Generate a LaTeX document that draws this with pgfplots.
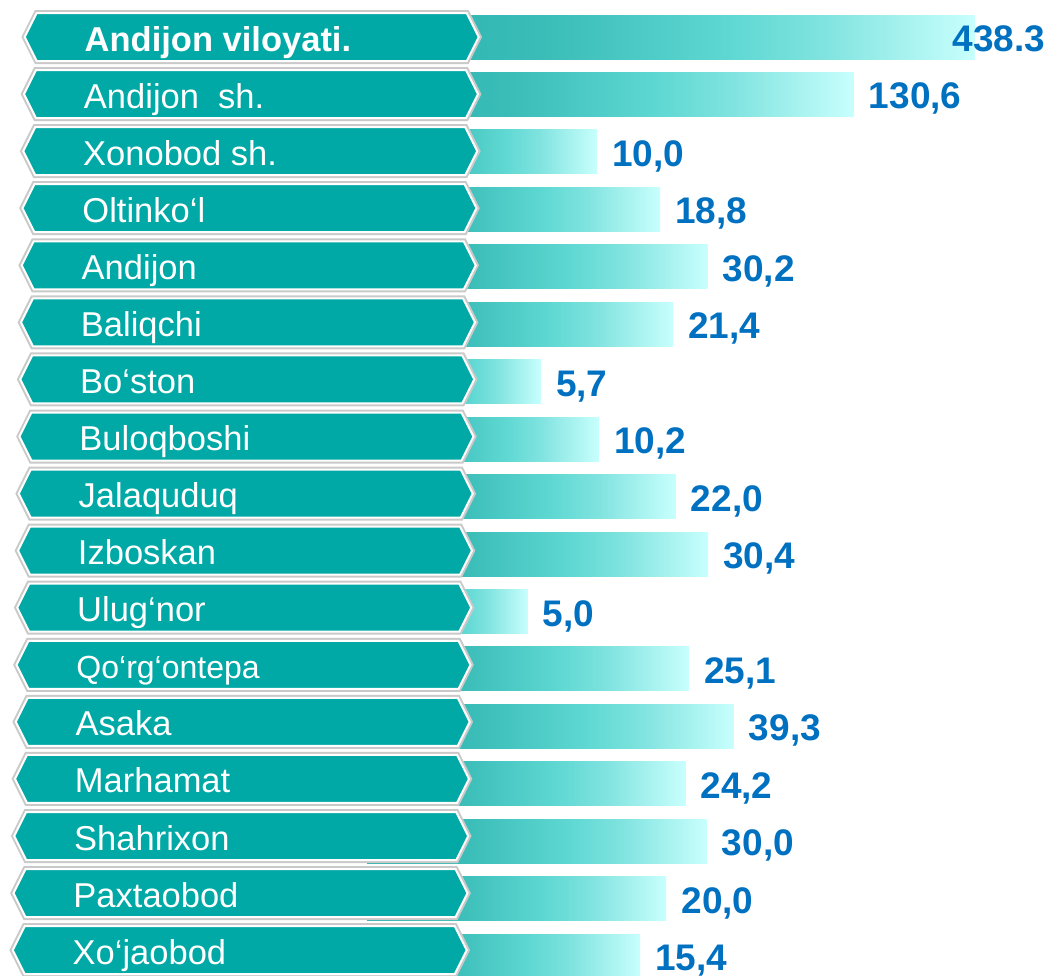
\documentclass[border=0pt]{standalone}
\usepackage{fontspec}
\setmainfont{Liberation Sans}
\usepackage{pgfplots}
\usepackage{pgfplotstable}
\pgfplotsset{compat=1.18}

\definecolor{tagteal}{HTML}{00A9A5}
\definecolor{tagshadow}{HTML}{C9C9C9}
\definecolor{valblue}{HTML}{0070C0}

\pgfdeclarehorizontalshading{barshade}{100bp}{%
  rgb(0bp)=(0.165,0.702,0.682);
  rgb(25bp)=(0.165,0.702,0.682);
  rgb(40bp)=(0.231,0.741,0.722);
  rgb(55bp)=(0.373,0.847,0.827);
  rgb(62.5bp)=(0.502,0.890,0.875);
  rgb(75bp)=(0.784,1,0.992);
  rgb(100bp)=(0.784,1,0.992)}

% tag shaped label: #1 = row number, #2 = text
\newcommand{\tagbox}[2]{%
  \pgfmathsetmacro{\tpad}{0.75*(16-#1)}%
  \pgfmathsetmacro{\traise}{0.38*#1}%
  \begin{tikzpicture}
    \path (-5pt-\tpad pt,-30pt-2*\traise pt) rectangle (460pt,30pt);
    \path[preaction={draw=tagshadow,line width=6pt,line join=miter},
          fill=tagteal, draw=white, line width=2pt, line join=miter]
      (0pt,0pt) -- (12pt,24pt) -- (442pt,24pt) -- (454pt,0pt)
      -- (442pt,-24pt) -- (12pt,-24pt) -- cycle;
    \node[anchor=base west, inner sep=0pt, text=white,
          font=\fontsize{34.5}{40}\selectfont] at (60pt,-14pt) {#2};
  \end{tikzpicture}}

\pgfplotstableread{
row value label
0 438.3 438.3
}\regiontable

\pgfplotstableread{
row value label
1 130.6 130,6
2 10.0 10,0
3 18.8 18,8
4 30.2 30,2
5 21.4 21,4
6 5.7 5,7
7 10.2 10,2
8 22.0 22,0
9 30.4 30,4
10 5.0 5,0
11 25.1 25,1
12 39.3 39,3
13 24.2 24,2
14 30.0 30,0
15 20.0 20,0
16 15.4 15,4
}\districttable

\begin{document}
\begin{tikzpicture}
\useasboundingbox (0pt,0pt) rectangle (1048pt,975pt);
\begin{axis}[
  at={(12pt,0pt)}, anchor=south west,
  scale only axis, width=1036pt, height=975pt,
  xmode=log, xmin=0.028608, xmax=913.9, log origin x=0,
  ymin=-0.644, ymax=16.327, y dir=reverse,
  axis line style={draw=none}, tick style={draw=none},
  xtick=\empty,
  ytick={0,...,16},
  yticklabels={
    {\tagbox{0}{\bfseries Andijon viloyati.}},
    {\tagbox{1}{Andijon\ \ sh.}},
    {\tagbox{2}{Xonobod sh.}},
    {\tagbox{3}{Oltinko‘l}},
    {\tagbox{4}{Andijon}},
    {\tagbox{5}{Baliqchi}},
    {\tagbox{6}{Bo‘ston}},
    {\tagbox{7}{Buloqboshi}},
    {\tagbox{8}{Jalaquduq}},
    {\tagbox{9}{Izboskan}},
    {\tagbox{10}{Ulug‘nor}},
    {\tagbox{11}{\fontsize{32}{38}\selectfont Qo‘rg‘ontepa}},
    {\tagbox{12}{Asaka}},
    {\tagbox{13}{Marhamat}},
    {\tagbox{14}{Shahrixon}},
    {\tagbox{15}{Paxtaobod}},
    {\tagbox{16}{Xo‘jaobod}}},
  yticklabel style={anchor=west, inner sep=0pt, outer sep=0pt},
  axis on top,
  clip=false,
  xbar, bar width=44pt, bar shift=0pt,
  point meta=explicit symbolic,
  nodes near coords,
  every node near coord/.append style={anchor=base west, inner sep=0pt,
     yshift=-14.5pt, text=valblue, font=\bfseries\fontsize{37}{42}\selectfont},
]
\addplot[draw=none, shading=barshade,
  every node near coord/.append style={xshift=-22pt}]
  table[x=value, y=row, meta=label] {\regiontable};
\pgfplotsinvokeforeach{1,...,16}{
  \addplot[draw=none, shading=barshade, restrict y to domain=#1:#1,
    every node near coord/.append style={xshift=15pt}]
    table[x=value, y=row, meta=label] {\districttable};
}
\end{axis}
\end{tikzpicture}
\end{document}
